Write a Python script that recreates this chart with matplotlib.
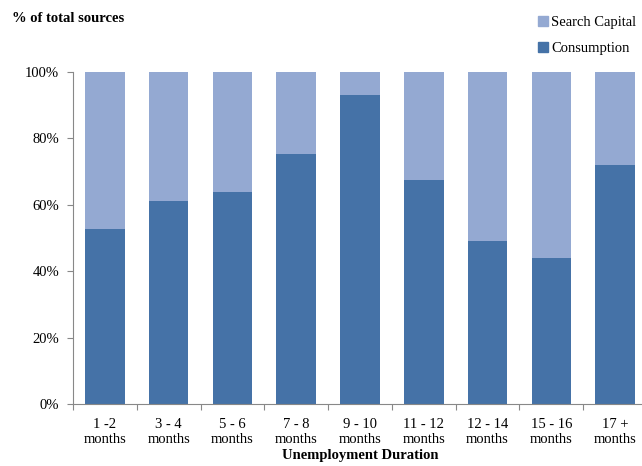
import matplotlib.pyplot as plt
from matplotlib.ticker import PercentFormatter
from matplotlib.patches import Patch

plt.rcParams['font.family'] = ['Liberation Serif', 'DejaVu Serif']

durations = ['1 -2\nmonths', '3 - 4\nmonths', '5 - 6\nmonths', '7 - 8\nmonths',
             '9 - 10\nmonths', '11 - 12\nmonths', '12 - 14\nmonths',
             '15 - 16\nmonths', '17 +\nmonths']
consumption = [52.7, 61.1, 63.9, 75.3, 93.1, 67.5, 49.1, 44.0, 72.0]
search_capital = [100 - c for c in consumption]

dark_blue = '#4572A7'
light_blue = '#94A9D2'

fig = plt.figure(figsize=(6.42, 4.66), dpi=100)
ax = fig.add_axes([73 / 642, 62 / 466, 574 / 642, 332 / 466])

x = range(len(durations))
ax.bar(x, consumption, width=0.62, color=dark_blue, label='Consumption')
ax.bar(x, search_capital, width=0.62, bottom=consumption, color=light_blue,
       label='Search Capital')

ax.set_xlim(-0.5, len(durations) - 0.5)
ax.set_ylim(0, 100)
ax.set_yticks(range(0, 101, 20))
ax.yaxis.set_major_formatter(PercentFormatter(decimals=0))
# category boundaries carry the tick marks, the names sit between them
ax.set_xticks([i + 0.5 for i in range(-1, len(durations) - 1)])
ax.set_xticklabels([])
ax.set_xticks(list(x), minor=True)
ax.set_xticklabels(durations, minor=True, fontsize=10.5, linespacing=1.25)
ax.tick_params(axis='x', which='minor', length=0, pad=10)
ax.tick_params(axis='x', which='major', length=4, color='#888888')
ax.tick_params(axis='y', length=4, color='#888888', labelsize=10.5, pad=6)

for side in ['top', 'right']:
    ax.spines[side].set_visible(False)
for side in ['left', 'bottom']:
    ax.spines[side].set_color('#888888')

ax.set_xlabel('Unemployment Duration', fontsize=10.5, fontweight='bold',
              labelpad=2)
fig.text(12 / 642, 1 - 18 / 466, '% of total sources', fontsize=10.5,
         fontweight='bold', va='center', ha='left')

handles = [Patch(color=light_blue, label='Search Capital'),
           Patch(color=dark_blue, label='Consumption')]
fig.legend(handles=handles, loc='upper left', bbox_to_anchor=(525 / 642, 1 - 3 / 466),
           frameon=False, fontsize=10.5, handlelength=0.7, handleheight=0.7,
           handletextpad=0.2, labelspacing=0.85)

fig.savefig('out.png', dpi=100)
